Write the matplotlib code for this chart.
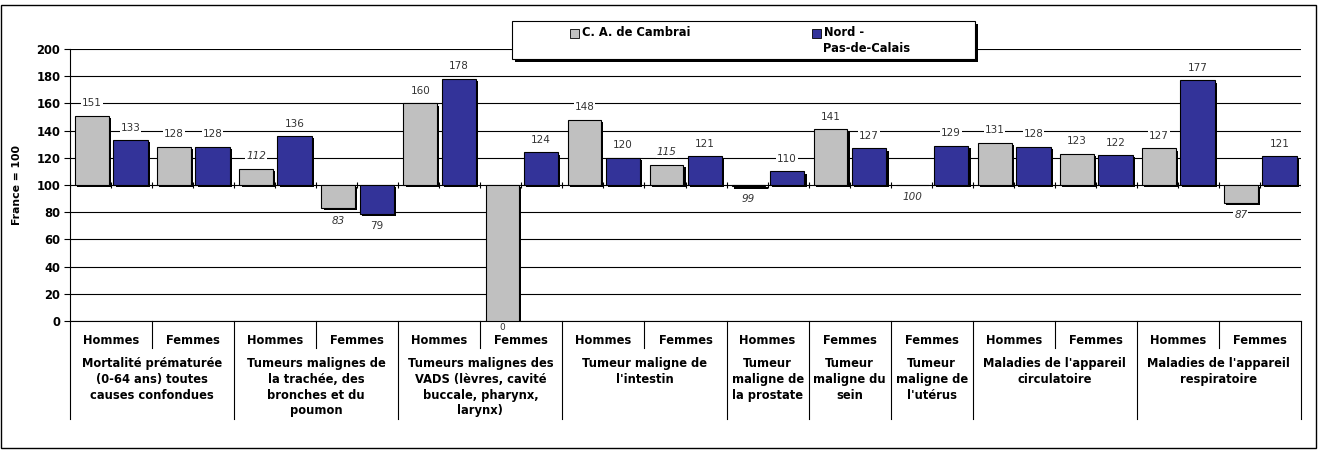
import numpy as np
import matplotlib
matplotlib.use("Agg")
from matplotlib import pyplot as plt
from matplotlib.patches import Rectangle
import matplotlib.patheffects as pe

# data : indices comparatifs de mortalite (France = 100)
sexes = ["Hommes", "Femmes", "Hommes", "Femmes", "Hommes", "Femmes", "Hommes", "Femmes",
         "Hommes", "Femmes", "Femmes", "Hommes", "Femmes", "Hommes", "Femmes"]
groups = ["Mortalité prématurée\n(0-64 ans) toutes\ncauses confondues",
          "Tumeurs malignes de\nla trachée, des\nbronches et du\npoumon",
          "Tumeurs malignes des\nVADS (lèvres, cavité\nbuccale, pharynx,\nlarynx)",
          "Tumeur maligne de\nl'intestin",
          "Tumeur\nmaligne de\nla prostate",
          "Tumeur\nmaligne du\nsein",
          "Tumeur\nmaligne de\nl'utérus",
          "Maladies de l'appareil\ncirculatoire",
          "Maladies de l'appareil\nrespiratoire"]
group_size = [2, 2, 2, 2, 1, 1, 1, 2, 2]
cambrai = [151, 128, 112, 83, 160, 0, 148, 115, 99, 141, 100, 131, 123, 127, 87]
cambrai_italic = [False, False, True, True, False, False, False, True, True, False, True,
                  False, False, False, True]
npdc = [133, 128, 136, 79, 178, 124, 120, 121, 110, 127, 129, 128, 122, 177, 121]

gray = "#C0C0C0"
navy = "#333399"
matplotlib.rcParams['font.family'] = 'DejaVu Sans'
fs_bold = 8.3

W, H = 1319, 450
fig = plt.figure(figsize=(W / 100, H / 100), dpi=100)
ax = fig.add_axes([70 / W, 1 - 321 / H, (1301 - 70) / W, (321 - 49) / H])

n = len(sexes)
x = np.arange(n) + 0.5
shadow = [pe.SimplePatchShadow(offset=(1.6, -1.6), shadow_rgbFace='black', alpha=1.0), pe.Normal()]

b1 = ax.bar(x - 0.232, np.array(cambrai) - 100, bottom=100, width=0.41, color=gray,
            edgecolor='black', linewidth=0.8, zorder=3)
b2 = ax.bar(x + 0.238, np.array(npdc) - 100, bottom=100, width=0.42, color=navy,
            edgecolor='black', linewidth=0.8, zorder=3)
for r in list(b1) + list(b2):
    r.set_path_effects(shadow)

# small ticks on the 100 line
ax.vlines(np.arange(0, n + 0.01, 0.5), 97.8, 102.2, color='black', lw=0.8, zorder=2)

# value labels
def label(xpos, v, italic):
    if v == 0:
        # sits right on the category axis in the original
        ax.annotate(str(v), (xpos, v), xytext=(0, -4.5), textcoords='offset points',
                    ha='center', va='center', fontsize=6.5, color='#333333', zorder=4)
        return
    off = 9 if v > 100 else -9
    ax.annotate(str(v), (xpos, v), xytext=(0, off), textcoords='offset points',
                ha='center', va='center', fontsize=7.5, color='#333333',
                style='italic' if italic else 'normal', zorder=4,
                bbox=dict(facecolor='white', edgecolor='none', pad=0.6))

for i in range(n):
    label(x[i] - 0.232, cambrai[i], cambrai_italic[i])
    label(x[i] + 0.238, npdc[i], False)

ax.set_xlim(0, n)
ax.set_ylim(0, 200)
ax.set_yticks(range(0, 201, 20))
ax.yaxis.grid(True, color='black', lw=0.8, zorder=0)
ax.set_axisbelow(True)
ax.tick_params(axis='y', length=4, width=0.8, labelsize=fs_bold, pad=3)
for t in ax.get_yticklabels():
    t.set_fontweight('bold')
ax.set_xticks([])
ax.spines['top'].set_visible(False)
ax.spines['right'].set_visible(False)
ax.set_ylabel("France = 100", fontsize=7.8, fontweight='bold', labelpad=10)

# category axis (two levels)
tr = ax.get_xaxis_transform()
for i in range(n):
    ax.text(x[i], -0.072, sexes[i], transform=tr, ha='center', va='center',
            fontsize=fs_bold, fontweight='bold')
start = 0
for g, s in zip(groups, group_size):
    ax.plot([start, start], [0, -0.36], transform=tr, color='black', lw=0.8, clip_on=False)
    if s == 2:
        ax.plot([start + 1, start + 1], [0, -0.099], transform=tr, color='black', lw=0.8,
                clip_on=False)
    ax.text(start + s / 2, -0.133, g, transform=tr, ha='center', va='top',
            fontsize=fs_bold, fontweight='bold', linespacing=1.27)
    start += s
ax.plot([start, start], [0, -0.36], transform=tr, color='black', lw=0.8, clip_on=False)

# legend drawn by hand (Excel style with shadow)
def px(xp, yp):
    return xp / W, 1 - yp / H

fig.patches.append(Rectangle(px(515, 62), 463 / W, 38 / H, transform=fig.transFigure,
                             facecolor='black', edgecolor='none', zorder=5))
fig.patches.append(Rectangle(px(512, 59), 463 / W, 38 / H, transform=fig.transFigure,
                             facecolor='white', edgecolor='black', lw=0.8, zorder=6))
fig.patches.append(Rectangle(px(570, 38), 9 / W, 9 / H, transform=fig.transFigure,
                             facecolor=gray, edgecolor='black', lw=0.6, zorder=7))
fig.patches.append(Rectangle(px(812, 38), 9 / W, 9 / H, transform=fig.transFigure,
                             facecolor=navy, edgecolor='black', lw=0.6, zorder=7))
fig.text(*px(582, 33), "C. A. de Cambrai", ha='left', va='center', fontsize=fs_bold,
         fontweight='bold', zorder=8)
fig.text(*px(824, 33), "Nord -", ha='left', va='center', fontsize=fs_bold,
         fontweight='bold', zorder=8)
fig.text(*px(823, 48), "Pas-de-Calais", ha='left', va='center', fontsize=fs_bold,
         fontweight='bold', zorder=8)

# outer frame
fig.patches.append(Rectangle(px(1, 448), 1315 / W, 443 / H, transform=fig.transFigure,
                             facecolor='none', edgecolor='black', lw=1.0, zorder=1))

fig.savefig("out.png", dpi=100)
